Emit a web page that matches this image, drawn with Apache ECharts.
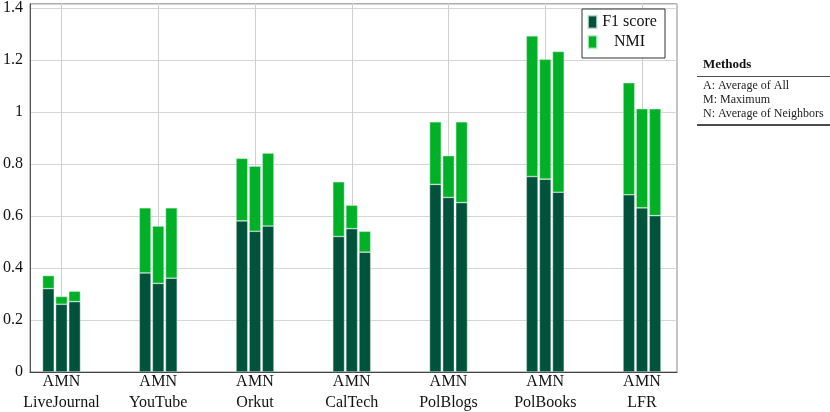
<!DOCTYPE html>
<html>
<head>
<meta charset="utf-8">
<script src="https://cdn.jsdelivr.net/npm/echarts@6/dist/echarts.min.js"></script>
<style>
html,body{margin:0;padding:0;background:#fff;}
#c{width:830px;height:412px;}
</style>
</head>
<body>
<div id="c"></div>
<script>
// ---- data ----
const categories = ['LiveJournal', 'YouTube', 'Orkut', 'CalTech', 'PolBlogs', 'PolBooks', 'LFR'];
const methods = ['A', 'M', 'N'];
const f1A = [0.32, 0.38, 0.58, 0.52, 0.72, 0.75, 0.68];
const f1M = [0.26, 0.34, 0.54, 0.55, 0.67, 0.74, 0.63];
const f1N = [0.27, 0.36, 0.56, 0.46, 0.65, 0.69, 0.60];
const nmiA = [0.05, 0.25, 0.24, 0.21, 0.24, 0.54, 0.43];
const nmiM = [0.03, 0.22, 0.25, 0.09, 0.16, 0.46, 0.38];
const nmiN = [0.04, 0.27, 0.28, 0.08, 0.31, 0.54, 0.41];
const methodNotes = ['A: Average of All', 'M: Maximum', 'N: Average of Neighbors'];
const tableTitle = 'Methods';

const FONT = 'Liberation Serif';
const DARK = '#00533a';
const LIGHT = '#00b128';
const YMAX = 1.416;

const f1Sets = [f1A, f1M, f1N];
const nmiSets = [nmiA, nmiM, nmiN];

const series = [];
methods.forEach((m, i) => {
  series.push({
    name: 'F1 score', type: 'bar', stack: m, xAxisIndex: 1, yAxisIndex: 1,
    data: f1Sets[i], barWidth: 11.7, barGap: '12%', clip: false,
    itemStyle: { color: DARK, borderColor: 'rgba(220,235,228,0.7)', borderWidth: 0.6 },
    label: { show: true, position: 'bottom', distance: 2, formatter: () => m,
             fontFamily: FONT, fontSize: 16, color: '#111' },
    emphasis: { disabled: true }
  });
  series.push({
    name: 'NMI', type: 'bar', stack: m, xAxisIndex: 1, yAxisIndex: 1,
    data: nmiSets[i], barWidth: 11.7, barGap: '12%', clip: false,
    itemStyle: { color: LIGHT, borderColor: 'rgba(220,245,225,0.7)', borderWidth: 0.6 },
    emphasis: { disabled: true }
  });
});

const graphics = [
  { type: 'text', left: 703, top: 58, style: { text: tableTitle, font: 'bold 13px "' + FONT + '"', fill: '#111' } },
  { type: 'line', shape: { x1: 697, y1: 76.5, x2: 830, y2: 76.5 }, style: { stroke: '#222', lineWidth: 0.8 } }
];
methodNotes.forEach((t, i) => {
  graphics.push({ type: 'text', left: 703, top: 80 + i * 14, style: { text: t, font: '12px "' + FONT + '"', fill: '#222' } });
});
graphics.push({ type: 'line', shape: { x1: 697, y1: 125, x2: 830, y2: 125 }, style: { stroke: '#111', lineWidth: 1.6 } });

const chart = echarts.init(document.getElementById('c'), null, { renderer: 'canvas' });
chart.setOption({
  animation: false,
  backgroundColor: '#fff',
  grid: [
    { left: 26, right: 153, top: 3, bottom: 40, show: true, borderColor: '#888', borderWidth: 1, backgroundColor: 'transparent' },
    { left: 61.5, right: 188, top: 3, bottom: 40 }
  ],
  xAxis: [
    { type: 'value', gridIndex: 0, min: 0, max: 1, show: true,
      axisLine: { show: true, lineStyle: { color: '#444', width: 1 } },
      axisTick: { show: false }, axisLabel: { show: false }, splitLine: { show: false } },
    { type: 'category', gridIndex: 1, data: categories, boundaryGap: false,
      axisLine: { show: false }, axisTick: { show: false },
      axisLabel: { margin: 23, fontFamily: FONT, fontSize: 16, color: '#111', interval: 0 },
      splitLine: { show: true, lineStyle: { color: '#cfcfcf', width: 1 } } }
  ],
  yAxis: [
    { type: 'value', gridIndex: 0, min: 0, max: YMAX, interval: 0.2,
      axisLine: { show: true, lineStyle: { color: '#555', width: 1 } },
      axisTick: { show: false },
      axisLabel: { showMaxLabel: false, margin: 7, fontFamily: FONT, fontSize: 16, color: '#111' },
      splitLine: { show: true, lineStyle: { color: '#d6d6d6', width: 1 } } },
    { type: 'value', gridIndex: 1, min: 0, max: YMAX, show: false }
  ],
  legend: {
    data: ['F1 score', 'NMI'], orient: 'vertical', left: 582, top: 9,
    icon: 'rect', itemWidth: 9, itemHeight: 13, itemGap: 4,
    padding: [5, 8, 8, 5], borderColor: '#333', borderWidth: 1, borderRadius: 0,
    backgroundColor: '#fff',
    formatter: name => '{c|' + name + '}',
    textStyle: { fontFamily: FONT, fontSize: 16, color: '#111',
      rich: { c: { width: 55, align: 'center', fontFamily: FONT, fontSize: 16, lineHeight: 18, color: '#111' } } },
    selectedMode: false
  },
  series: series,
  graphic: graphics
});
</script>
</body>
</html>
